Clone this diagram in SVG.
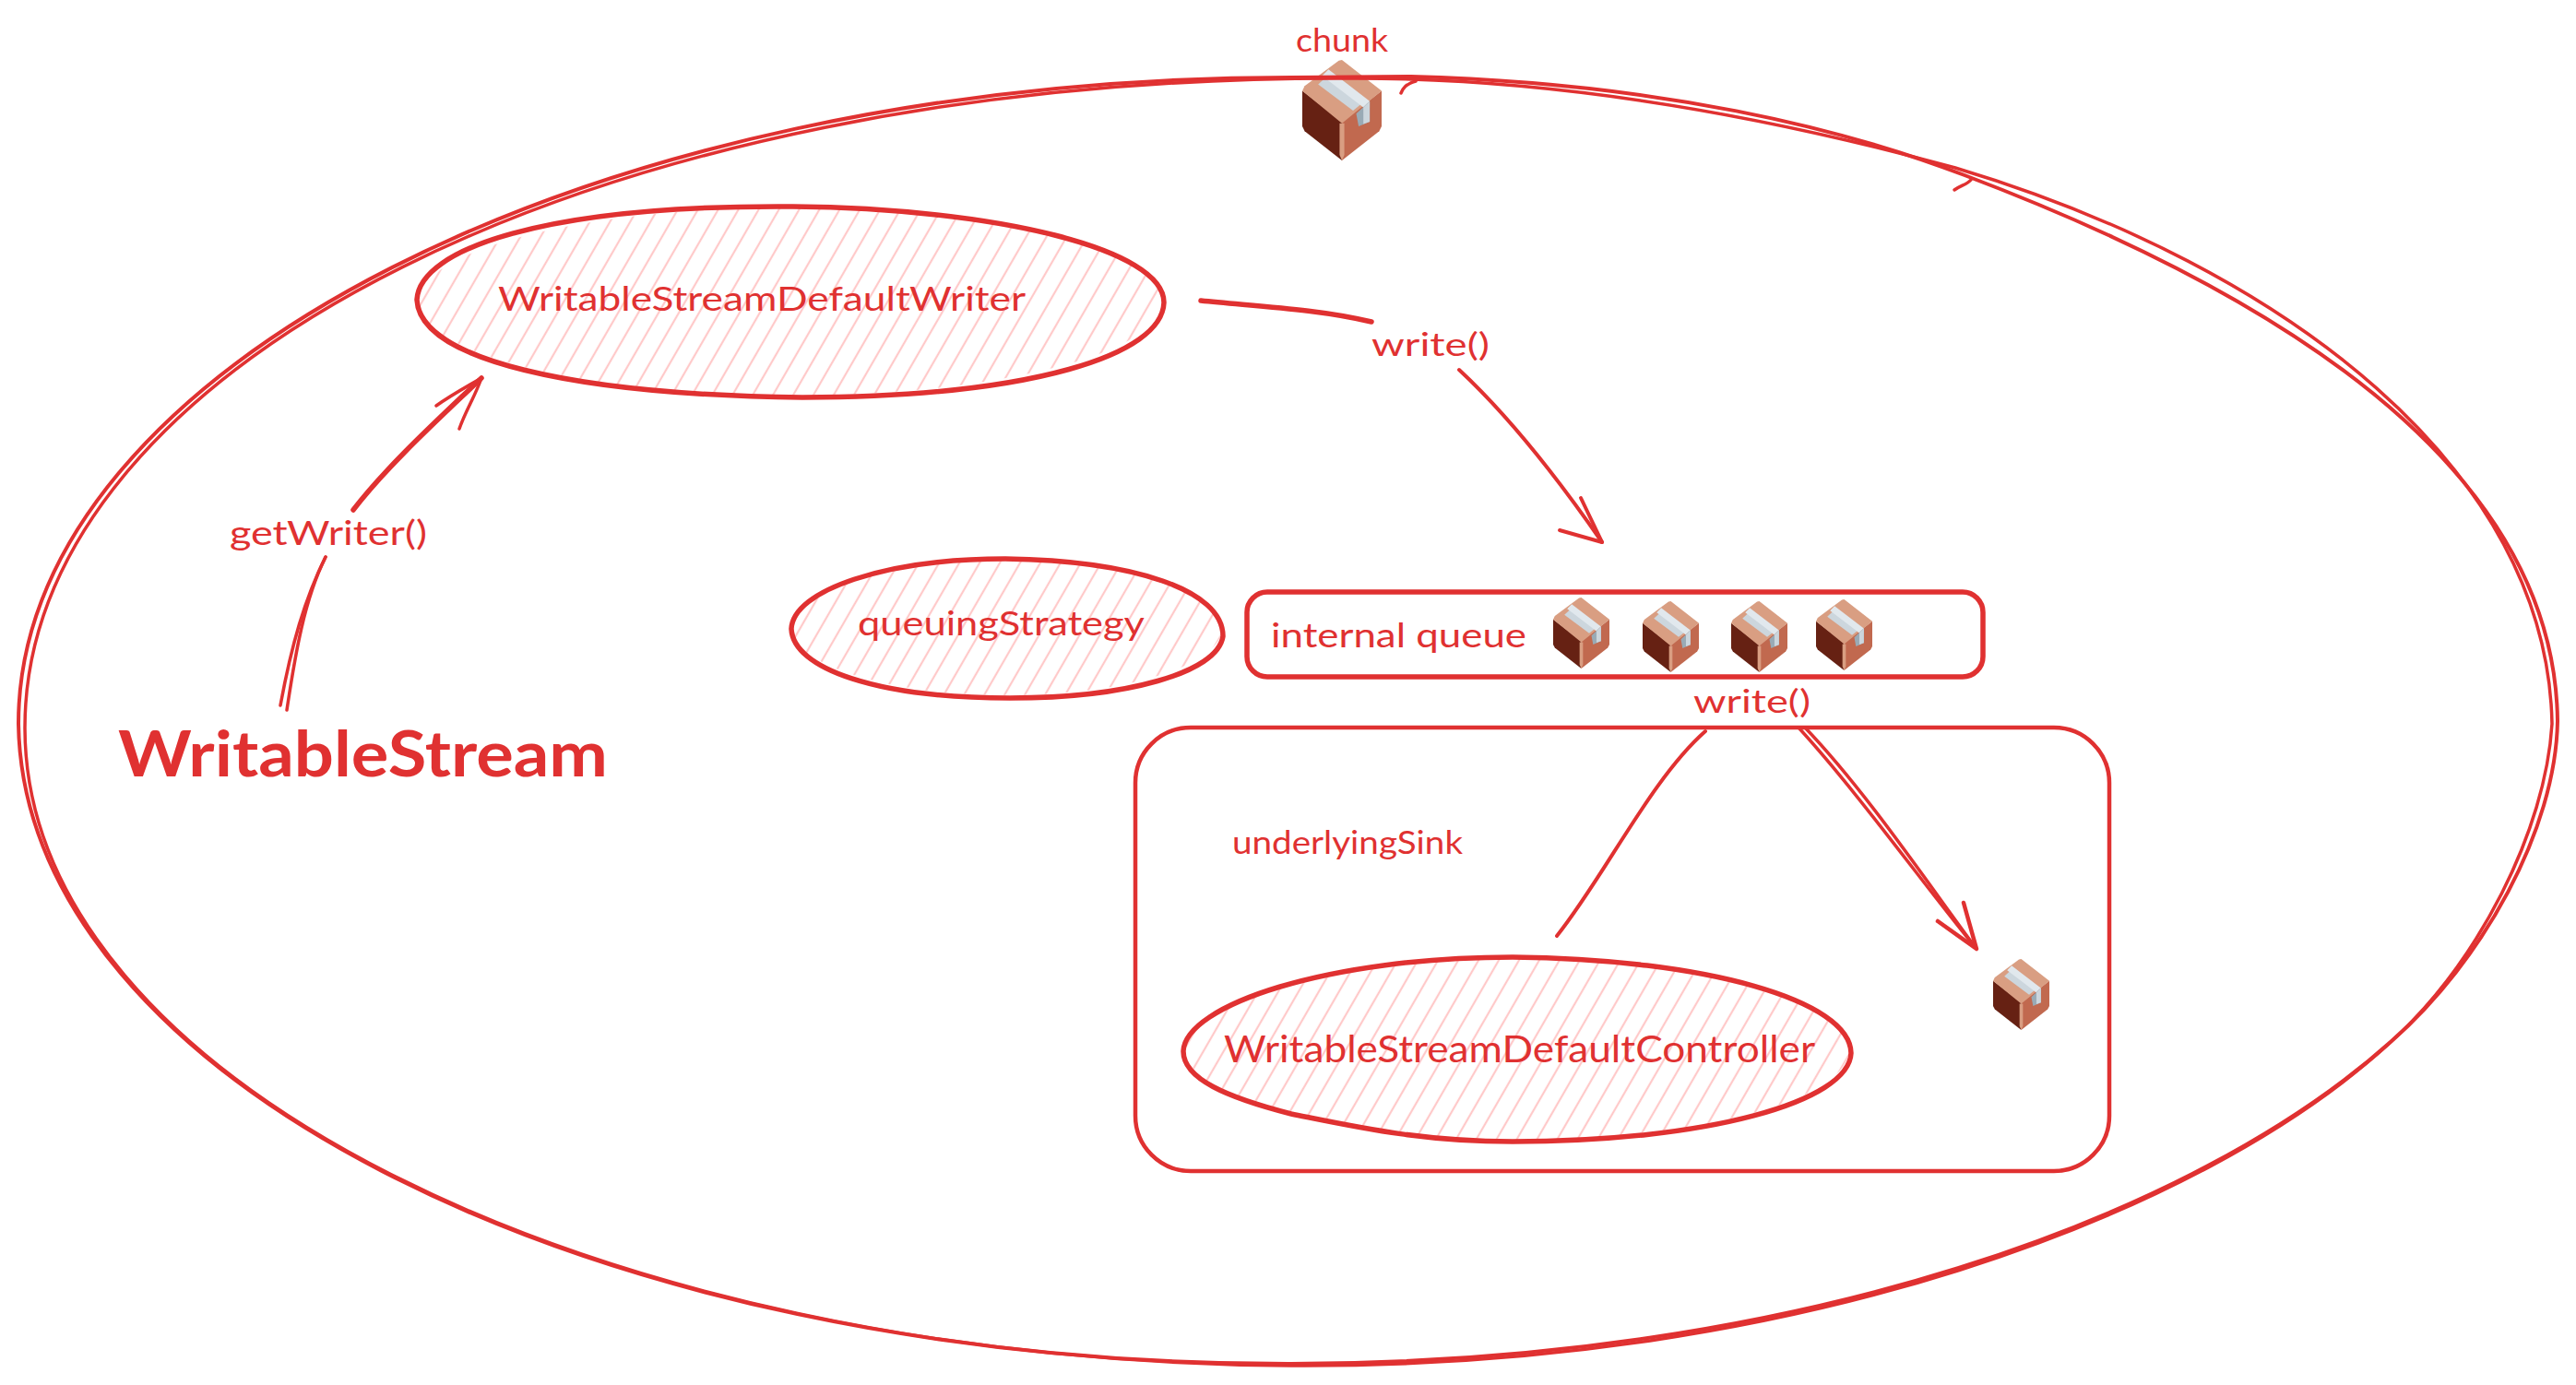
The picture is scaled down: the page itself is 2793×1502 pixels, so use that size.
<svg xmlns="http://www.w3.org/2000/svg" width="2793" height="1502" viewBox="0 0 2793 1502">
<style>
.s{fill:none;stroke:#e03131;stroke-width:3.5;stroke-linecap:round;stroke-linejoin:round}
.t{stroke-width:5.5}
.h{fill:url(#hatch);stroke:none}
text{fill:#e03131;font-family:"Lato","Noto Sans",sans-serif}
</style>
<defs>
<pattern id="hatch" patternUnits="userSpaceOnUse" width="19" height="19" patternTransform="rotate(30)">
<line x1="9" y1="0" x2="9" y2="19" stroke="#ffc9c9" stroke-width="2.2"/>
</pattern>
<symbol id="box" viewBox="0 0 100 127" preserveAspectRatio="none">
<path d="M0 39 L50 78 L50 127 L3 90 L0 84Z" fill="#662113"/>
<path d="M100 39 L50 78 L50 127 L97 90 L100 84Z" fill="#c1694f"/>
<path d="M47 80 L53 80 L53 120 L50 127 L47 120Z" fill="#d99e82"/>
<path d="M50 0 L100 39 L50 80 L0 39 L3 33 L46 1Z" fill="#d99e82"/>
<path d="M17 27 L33 12 L77 47 L61 60Z" fill="#ccd6dd" transform="translate(3,4)"/>
<path d="M25 20 L33 12 L85 52 L77 60Z" fill="#e1e8ed"/>
<path d="M68 68 L85 52 L85 78 L71 84Z" fill="#99aab5"/>
<path d="M77 60 L85 52 L85 78 L77 81Z" fill="#ccd6dd"/>
</symbol>
</defs>
<rect width="2793" height="1502" fill="#fff"/>

<g id="chunk"><use href="#box" x="1412" y="65" width="86" height="109"/>
<text x="1405" y="56" font-size="34" textLength="100" lengthAdjust="spacingAndGlyphs">chunk</text></g>

<g id="writable-stream-boundary">
<path class="s" d="M1535 88 C1524 91 1521 96 1519 101"/>
<path class="s" d="M2137 195 C2133 200 2126 201 2119 206"/>
<path class="s" style="stroke-width:4" d="M1530 83 C1800 90 2000 140 2130 190 C2500 330 2770 520 2773 782 C2771 900 2692 1042 2593 1129 C2380 1320 1950 1478 1400 1479 C640 1480 26 1170 20 785 C20 400 640 84 1400 84 L1530 83"/>
<path class="s" d="M1470 85 C1700 85 1930 130 2120 182 C2480 290 2762 510 2767 785 C2760 900 2688 1044 2589 1133 C2385 1318 1950 1484 1400 1481 C640 1476 28 1170 27 790 C26 400 640 80 1470 85"/>
</g>

<g id="writer">
<ellipse class="h" cx="857" cy="327" rx="403" ry="102"/>
<path class="s t" d="M452 325 C455 270 590 222 860 224 C1080 226 1262 270 1262 328 C1260 385 1120 430 870 431 C620 428 455 390 452 325Z"/>
<text x="540" y="337" font-size="37" textLength="572" lengthAdjust="spacingAndGlyphs">WritableStreamDefaultWriter</text>
</g>

<g id="queuing-strategy">
<ellipse class="h" cx="1092" cy="681" rx="233" ry="73"/>
<path class="s t" d="M858 682 C860 640 960 606 1090 606 C1230 608 1326 640 1326 690 C1320 730 1220 757 1095 757 C950 757 860 725 858 682Z"/>
<text x="930" y="689" font-size="36" textLength="311" lengthAdjust="spacingAndGlyphs">queuingStrategy</text>
</g>

<g id="internal-queue">
<rect class="s t" x="1352" y="642" width="798" height="92" rx="22"/>
<text x="1378" y="702" font-size="36" textLength="277" lengthAdjust="spacingAndGlyphs">internal queue</text>
<use href="#box" x="1684" y="648" width="61" height="77"/>
<use href="#box" x="1781" y="652" width="61" height="77"/>
<use href="#box" x="1877" y="652" width="61" height="77"/>
<use href="#box" x="1969" y="650" width="61" height="77"/>
</g>

<g id="underlying-sink">
<rect class="s" style="stroke-width:4.5" x="1231" y="789" width="1056" height="481" rx="60"/>
<text x="1336" y="926" font-size="34" textLength="250" lengthAdjust="spacingAndGlyphs">underlyingSink</text>
<use href="#box" x="2161" y="1040" width="61" height="77"/>
</g>

<g id="controller">
<ellipse class="h" cx="1645" cy="1138" rx="360" ry="98"/>
<path class="s t" d="M1283 1140 C1285 1090 1440 1038 1640 1038 C1850 1040 2006 1085 2007 1142 C2005 1195 1850 1238 1640 1238 C1540 1238 1470 1222 1400 1208 C1330 1190 1283 1170 1283 1140Z"/>
<text x="1327" y="1152" font-size="40" textLength="641" lengthAdjust="spacingAndGlyphs">WritableStreamDefaultController</text>
</g>

<g id="writable-stream-label">
<text x="128" y="842" font-size="68" font-weight="700" textLength="531" lengthAdjust="spacingAndGlyphs">WritableStream</text>
</g>

<g id="connectors">
<path class="s" d="M304 765 C316 700 330 650 353 604"/>
<path class="s" d="M311 770 C320 710 330 650 353 604"/>
<path class="s t" d="M383 553 C420 505 475 455 522 410"/>
<path class="s" d="M473 440 C490 428 505 420 522 410 C515 430 505 445 498 465"/>
<path class="s t" d="M1302 326 C1360 332 1430 335 1487 349"/>
<path class="s" style="stroke-width:4" d="M1582 401 C1640 455 1690 520 1737 588"/>
<path class="s" style="stroke-width:4" d="M1691 575 L1737 588 L1714 540"/>
<path class="s" style="stroke-width:4" d="M1688 1015 C1740 950 1790 845 1849 793"/>
<path class="s" d="M1950 789 C2015 860 2090 965 2143 1029"/>
<path class="s" d="M1957 789 C2025 860 2095 965 2143 1029"/>
<path class="s" style="stroke-width:4.5" d="M2101 999 L2143 1029 L2129 979"/>
<text x="1487" y="386" font-size="34" textLength="128" lengthAdjust="spacingAndGlyphs">write()</text>
<text x="1836" y="773" font-size="34" textLength="127" lengthAdjust="spacingAndGlyphs">write()</text>
<text x="249" y="591" font-size="36" textLength="214" lengthAdjust="spacingAndGlyphs">getWriter()</text>
</g>
</svg>
